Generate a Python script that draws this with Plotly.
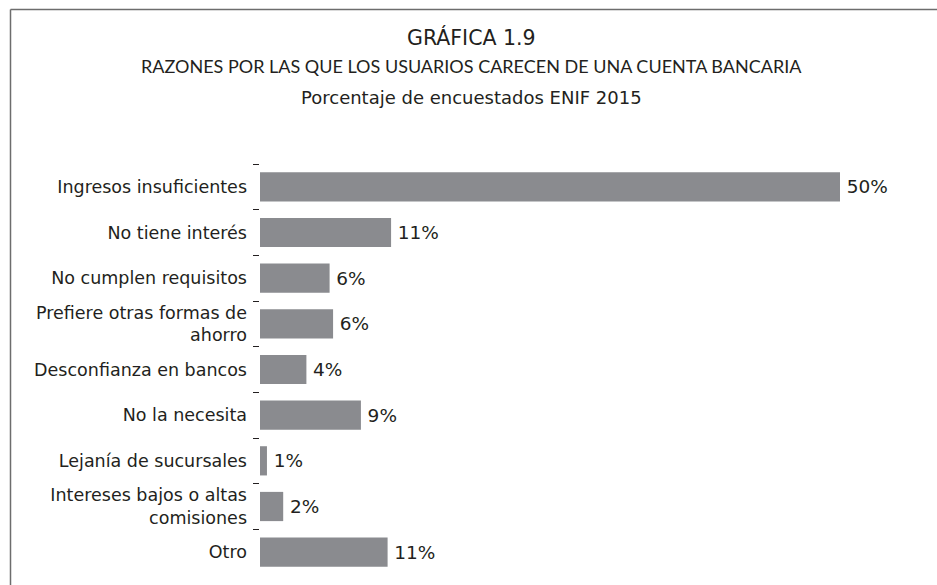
import plotly.graph_objects as go

categories = [
    "Ingresos insuficientes",
    "No tiene interés",
    "No cumplen requisitos",
    "Prefiere otras formas de<br>ahorro",
    "Desconfianza en bancos",
    "No la necesita",
    "Lejanía de sucursales",
    "Intereses bajos o altas<br>comisiones",
    "Otro",
]
values = [50, 11.3, 6.0, 6.3, 4.0, 8.7, 0.6, 2.0, 11.0]
value_labels = ["50%", "11%", "6%", "6%", "4%", "9%", "1%", "2%", "11%"]

title_line1 = "GRÁFICA 1.9"
title_line2 = "RAZONES POR LAS QUE LOS USUARIOS CARECEN DE UNA CUENTA BANCARIA"
title_line3 = "Porcentaje de encuestados ENIF 2015"

FONT = "DejaVu Sans"
TFONT = "Lato"
TXT = "#231f20"
BAR = "#8a8b8f"

W, H = 937, 585
ML, MR, MT, MB = 260, 40, 164, 10
PW = W - ML - MR
PH = H - MT - MB


def px_x(p):
    return (p - ML) / PW


def px_y(p):
    return (H - MB - p) / PH


fig = go.Figure()
fig.add_trace(go.Bar(
    x=values,
    y=categories,
    orientation="h",
    marker=dict(color=BAR, line=dict(width=0)),
    width=0.64,
    text=["\u2009" + t for t in value_labels],
    textposition="outside",
    textfont=dict(family=FONT, size=18.5, color=TXT),
    cliponaxis=False,
    hoverinfo="skip",
))

fig.update_layout(
    width=W, height=H,
    margin=dict(l=ML, r=MR, t=MT, b=MB),
    paper_bgcolor="white", plot_bgcolor="white",
    showlegend=False,
    font=dict(family=FONT, color=TXT),
    xaxis=dict(range=[0, PW / 11.6], visible=False, fixedrange=True),
    yaxis=dict(
        autorange="reversed",
        type="category",
        tickson="boundaries",
        ticks="outside",
        ticklen=6,
        tickwidth=1,
        tickcolor=TXT,
        showline=False,
        showgrid=False,
        zeroline=False,
        tickfont=dict(family=FONT, size=17.5, color=TXT),
        ticklabelstandoff=12,
        fixedrange=True,
    ),
)

for txt, ypix, fam, size in [
    (title_line1, 37.5, FONT, 20.5),
    (title_line2, 66.5, TFONT, 18),
    (title_line3, 97.5, FONT, 18),
]:
    fig.add_annotation(
        text=txt, xref="paper", yref="paper",
        x=px_x(W / 2 + 3), y=px_y(ypix), xanchor="center", yanchor="middle",
        showarrow=False, font=dict(family=fam, size=size, color=TXT),
    )

frame = dict(color="#6d6d6d", width=1.5)
fig.add_shape(type="line", xref="paper", yref="paper",
              x0=px_x(10.5), x1=px_x(W), y0=px_y(9.5), y1=px_y(9.5), line=frame)
fig.add_shape(type="line", xref="paper", yref="paper",
              x0=px_x(10.5), x1=px_x(10.5), y0=px_y(9.5), y1=px_y(H + 2), line=frame)

fig.write_html(
    "out.html",
    config={"displayModeBar": False, "staticPlot": True},
    post_script="document.body.style.margin='0';document.body.style.padding='0';",
)
